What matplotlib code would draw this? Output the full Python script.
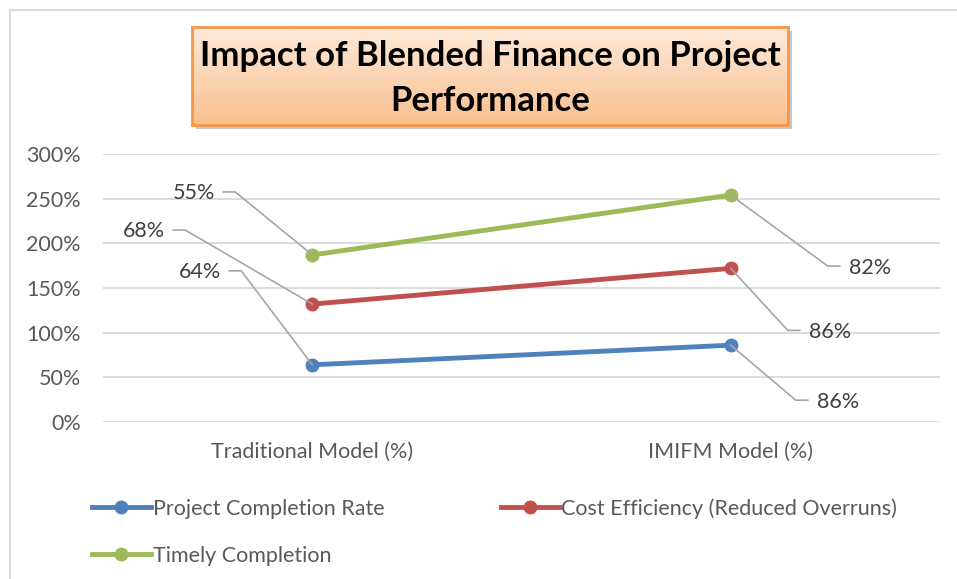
import numpy as np
import matplotlib
matplotlib.use("Agg")
import matplotlib.pyplot as plt
from matplotlib.lines import Line2D
from matplotlib.patches import Rectangle

plt.rcParams['font.family'] = ['Lato', 'DejaVu Sans']

categories = ["Traditional Model (%)", "IMIFM Model (%)"]
series_names = ["Project Completion Rate", "Cost Efficiency (Reduced Overruns)", "Timely Completion"]
completion = [64, 86]
cost_eff = [68, 86]
timely = [55, 82]
yticks = [0, 50, 100, 150, 200, 250, 300]
title = "Impact of Blended Finance on Project\nPerformance"

colors = ["#4F81BD", "#C0504D", "#9BBB59"]
W, H = 957, 579
fig = plt.figure(figsize=(W / 100, H / 100), dpi=100)

# chart border (top and left visible)
fig.add_artist(Line2D([10 / W, 10 / W], [0, 1 - 10 / H], color="#D9D9D9", lw=1.5, zorder=-2))
fig.add_artist(Line2D([10 / W, 1], [1 - 10 / H, 1 - 10 / H], color="#D9D9D9", lw=1.5, zorder=-2))

ax = fig.add_axes([103 / W, 1 - 422 / H, 837 / W, 268 / H])
x = np.arange(len(categories))
data = [completion, cost_eff, timely]
stacked = np.cumsum(np.array(data, dtype=float), axis=0)

for i, (name, vals) in enumerate(zip(series_names, stacked)):
    ax.plot(x, vals, color=colors[i], lw=3.5, marker="o", ms=9, label=name,
            solid_capstyle="round", zorder=3)

FS = 15.5
ax.set_xlim(-0.5, 1.5)
ax.set_ylim(0, 300)
ax.set_yticks(yticks)
ax.set_yticklabels([f"{v}%" for v in yticks])
ax.set_xticks(x)
ax.set_xticklabels(categories)
ax.grid(axis="y", color="#D9D9D9", lw=1.3)
ax.set_axisbelow(True)
for s in ax.spines.values():
    s.set_visible(False)
ax.tick_params(length=0, labelsize=FS, colors="#595959")
ax.tick_params(axis="y", pad=16)
ax.tick_params(axis="x", pad=14)

# data labels with leader lines (pixel offsets from the point; y up)
offsets = [
    [(-112, 93), (107, -57)],    # completion
    [(-168, 73), (99, -64)],     # cost eff
    [(-118, 62), (139, -73)],    # timely
]
fig.canvas.draw()
for i in range(3):
    for j in range(2):
        px, py = ax.transData.transform((x[j], stacked[i, j]))
        dx, dy = offsets[i][j]
        tx, ty = px + dx, py + dy
        fig.text(tx / W, ty / H, f"{data[i][j]}%", ha="center", va="center",
                 fontsize=FS, color="#404040")
        if j == 0:
            xs = [tx + 29, tx + 41, px]
            ys = [ty + 1, ty + 1, py]
        else:
            xs = [px, tx - 42, tx - 30]
            ys = [py, ty + 2, ty + 2]
        fig.add_artist(Line2D([v / W for v in xs], [v / H for v in ys],
                              color="#A6A6A6", lw=1.2, zorder=2))

# title box with gradient
bx0, by0, bx1, by1 = 192, 27, 788, 125
fig.add_artist(Rectangle(((bx0 + 4) / W, 1 - (by1 + 4) / H), (bx1 - bx0) / W, (by1 - by0) / H,
                         facecolor="#C8C8C8", edgecolor="none", zorder=-1))
tax = fig.add_axes([bx0 / W, 1 - by1 / H, (bx1 - bx0) / W, (by1 - by0) / H])
tax.set_zorder(5)
grad = np.linspace(0, 1, 100).reshape(-1, 1)
c_top = np.array([0xFD, 0xEA, 0xDA]) / 255
c_bot = np.array([0xFA, 0xC0, 0x90]) / 255
img = c_top[None, None, :] * (1 - grad[:, :, None]) + c_bot[None, None, :] * grad[:, :, None]
tax.imshow(img, aspect="auto", extent=[0, 1, 0, 1])
tax.set_xticks([]); tax.set_yticks([])
for s in tax.spines.values():
    s.set_color("#F79646"); s.set_linewidth(2)
tax.text(0.5, 0.47, title, ha="center", va="center", fontsize=25, fontweight="bold",
         color="black", linespacing=1.5, transform=tax.transAxes)

# legend (column-first fill -> reorder so rows read Project, Cost / Timely)
order = [0, 2, 1]
handles = [Line2D([], [], color=colors[k], lw=3.5, marker="o", ms=9) for k in order]
labels = [series_names[k] for k in order]
leg = fig.legend(handles, labels, ncol=2, loc="upper left",
                 bbox_to_anchor=(73 / W, 1 - 479 / H), frameon=False,
                 handlelength=2.7, handletextpad=0.1, columnspacing=5.4,
                 labelspacing=1.25, fontsize=FS, labelcolor="#595959")

fig.savefig("out.png", dpi=100, facecolor="white")
